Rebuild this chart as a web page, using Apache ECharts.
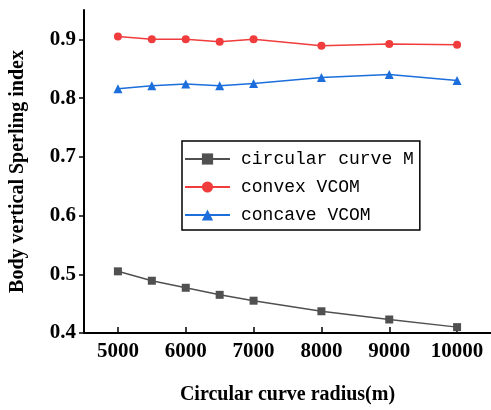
<!DOCTYPE html>
<html>
<head>
<meta charset="utf-8">
<script src="https://cdn.jsdelivr.net/npm/echarts@6/dist/echarts.min.js"></script>
<style>
html,body{margin:0;padding:0;background:#fff;}
#chart{width:491px;height:410px;}
</style>
</head>
<body>
<div id="chart"></div>
<script>
// 数据
var radius = [5000, 5500, 6000, 6500, 7000, 8000, 9000, 10000];
var xTicks = [5000, 6000, 7000, 8000, 9000, 10000];
var circularM = [0.505, 0.489, 0.477, 0.465, 0.455, 0.437, 0.423, 0.410];
var convexVcom = [0.905, 0.900, 0.900, 0.896, 0.900, 0.889, 0.892, 0.891];
var concaveVcom = [0.816, 0.821, 0.824, 0.821, 0.825, 0.835, 0.840, 0.830];
var seriesNames = ['circular curve M', 'convex VCOM', 'concave VCOM'];

function pairs(ys){
	var out = [];
	for (var i = 0; i < radius.length; i++) {
		out.push([radius[i], ys[i]]);
	}
	return out;
}

var myChart = echarts.init(document.getElementById('chart'));
var serif = "'Liberation Serif', 'Times New Roman', serif";

var option = {
	animation: false,
	grid: { left: 81, right: 0, top: 10, bottom: 67 },
	legend: {
		orient: 'vertical',
		left: 182,
		top: 141,
		width: 237,
		padding: [9, 6, 6, 2],
		itemWidth: 45,
		itemHeight: 14,
		itemGap: 10,
		borderColor: '#000',
		borderWidth: 1.5,
		textStyle: {
			fontFamily: "'Liberation Mono', monospace",
			fontSize: 18,
			lineHeight: 14,
			color: '#000',
			padding: [0, 0, 0, 6]
		},
		data: seriesNames
	},
	xAxis: {
		type: 'value',
		min: 4500,
		max: 10500,
		name: 'Circular curve radius(m)',
		nameLocation: 'middle',
		nameGap: 52,
		nameTextStyle: { fontFamily: serif, fontWeight: 'bold', fontSize: 20, color: '#000' },
		axisLine: { show: true, lineStyle: { color: '#000', width: 2 } },
		axisTick: { show: true, inside: true, length: 6, lineStyle: { color: '#000', width: 1.5 }, customValues: xTicks },
		axisLabel: {
			margin: 8, fontFamily: serif, fontWeight: 'bold', fontSize: 21, color: '#000',
			customValues: xTicks,
			formatter: function(v){ return String(v); }
		},
		splitLine: { show: false }
	},
	yAxis: {
		type: 'value',
		min: 0.4,
		max: 0.95,
		interval: 0.1,
		name: 'Body vertical Sperling index',
		nameLocation: 'middle',
		nameGap: 56,
		nameTextStyle: { fontFamily: serif, fontWeight: 'bold', fontSize: 20, color: '#000' },
		axisLine: { show: true, lineStyle: { color: '#000', width: 2 } },
		axisTick: { show: true, inside: false, length: 5, lineStyle: { color: '#000', width: 1.5 } },
		axisLabel: {
			margin: 8, fontFamily: serif, fontWeight: 'bold', fontSize: 21, color: '#000',
			showMaxLabel: false,
			formatter: function(v){ return v.toFixed(1); }
		},
		splitLine: { show: false }
	},
	series: [
		{
			name: seriesNames[0], type: 'line', data: pairs(circularM),
			symbol: 'rect', symbolSize: 8,
			itemStyle: { color: '#505050' },
			lineStyle: { color: '#505050', width: 1.5 }
		},
		{
			name: seriesNames[1], type: 'line', data: pairs(convexVcom),
			symbol: 'circle', symbolSize: 8,
			itemStyle: { color: '#F03C3C' },
			lineStyle: { color: '#F03C3C', width: 1.5 }
		},
		{
			name: seriesNames[2], type: 'line', data: pairs(concaveVcom),
			symbol: 'triangle', symbolSize: 9,
			itemStyle: { color: '#1C6EDC' },
			lineStyle: { color: '#1C6EDC', width: 1.5 }
		}
	]
};
myChart.setOption(option);
</script>
</body>
</html>
